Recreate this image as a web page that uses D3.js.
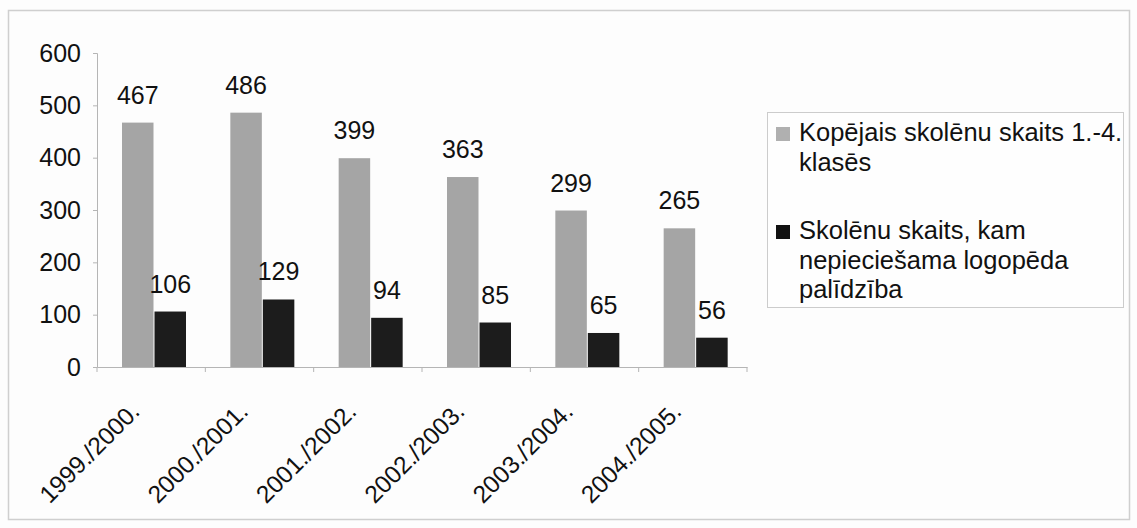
<!DOCTYPE html>
<html>
<head>
<meta charset="utf-8">
<script src="https://cdn.jsdelivr.net/npm/d3@7"></script>
<style>
  html, body { margin: 0; padding: 0; background: #fdfdfd; }
  svg { display: block; }
  text { font-family: Arial, "Liberation Sans", sans-serif; fill: #111; }
</style>
</head>
<body>
<svg id="chart" width="1137" height="528"></svg>
<script>
// School years
const categories = ["1999./2000.", "2000./2001.", "2001./2002.", "2002./2003.", "2003./2004.", "2004./2005."];
// Total pupils in grades 1-4
const totalPupils = [467, 486, 399, 363, 299, 265];
// Pupils needing speech therapist help
const speechHelp = [106, 129, 94, 85, 65, 56];
// Value-axis ticks
const yTicks = [0, 100, 200, 300, 400, 500, 600];
// Legend entries, already split into display lines
const legendLines = [
  ["Kopējais skolēnu skaits 1.-4.", "klasēs"],
  ["Skolēnu skaits, kam", "nepieciešama logopēda", "palīdzība"]
];

const series = [
  { values: totalPupils, color: "#a5a5a5", swatch: "#b0b0b0" },
  { values: speechHelp, color: "#1c1c1c", swatch: "#111111" }
];

const svg = d3.select("#chart");

// Outer chart frame
svg.append("rect")
  .attr("x", 8.5).attr("y", 10.5).attr("width", 1121).attr("height", 509)
  .attr("fill", "none").attr("stroke", "#cfcfcf").attr("stroke-width", 1.5);

const plot = { left: 97, right: 747, top: 53, bottom: 367 };

const x = d3.scaleBand().domain(categories).range([plot.left, plot.right]).padding(0);
const y = d3.scaleLinear().domain([0, 600]).range([plot.bottom, plot.top]);

const barW = 31.5;
const groupOffset = 25;

// Bars
series.forEach((s, si) => {
  svg.append("g").selectAll("rect")
    .data(s.values)
    .join("rect")
    .attr("x", (d, i) => x(categories[i]) + groupOffset + si * (barW + 1))
    .attr("y", d => y(d))
    .attr("width", barW)
    .attr("height", d => y(0) - y(d))
    .attr("fill", s.color);

  // Value labels above each bar
  svg.append("g").selectAll("text")
    .data(s.values)
    .join("text")
    .attr("x", (d, i) => x(categories[i]) + groupOffset + si * (barW + 1) + barW / 2)
    .attr("y", d => y(d) - 19)
    .attr("text-anchor", "middle")
    .attr("font-size", 25)
    .text(d => d);
});

// Value axis
const yAxis = svg.append("g")
  .attr("transform", `translate(${plot.left},0)`)
  .call(d3.axisLeft(y).tickValues(yTicks).tickSize(4).tickPadding(12));
yAxis.select(".domain").attr("stroke", "#b5b5b5");
yAxis.selectAll(".tick line").attr("stroke", "#b5b5b5");
yAxis.selectAll(".tick text")
  .attr("font-size", 25)
  .attr("font-family", "Arial, 'Liberation Sans', sans-serif")
  .attr("fill", "#111");

// Category axis
const xAxis = svg.append("g")
  .attr("transform", `translate(0,${plot.bottom})`)
  .call(d3.axisBottom(x).tickSize(0).tickFormat(""));
xAxis.select(".domain").attr("stroke", "#b5b5b5");

// Tick marks at band boundaries
const boundaries = categories.map(c => x(c)).concat([x(categories[categories.length - 1]) + x.bandwidth()]);
svg.append("g").selectAll("line")
  .data(boundaries)
  .join("line")
  .attr("x1", d => d).attr("x2", d => d)
  .attr("y1", plot.bottom).attr("y2", plot.bottom + 5)
  .attr("stroke", "#b5b5b5");

// Rotated category labels
svg.append("g").selectAll("text")
  .data(categories)
  .join("text")
  .attr("transform", d => `translate(${x(d) + x.bandwidth() / 2 - 10},${plot.bottom + 46}) rotate(-45)`)
  .attr("text-anchor", "end")
  .attr("font-size", 24.5)
  .text(d => d);

// Legend
const legend = svg.append("g");
legend.append("rect")
  .attr("x", 767.5).attr("y", 112.5).attr("width", 356).attr("height", 195)
  .attr("fill", "#fefefe").attr("stroke", "#cccccc");

const itemTops = [141, 239];
legendLines.forEach((lines, i) => {
  legend.append("rect")
    .attr("x", 776).attr("y", itemTops[i] - 14)
    .attr("width", 14).attr("height", 14)
    .attr("fill", series[i].swatch);
  const t = legend.append("text")
    .attr("x", 799).attr("y", itemTops[i])
    .attr("font-size", 25.5);
  lines.forEach((line, j) => {
    t.append("tspan")
      .attr("x", 799)
      .attr("dy", j === 0 ? 0 : 29.5)
      .text(line);
  });
});
</script>
</body>
</html>
